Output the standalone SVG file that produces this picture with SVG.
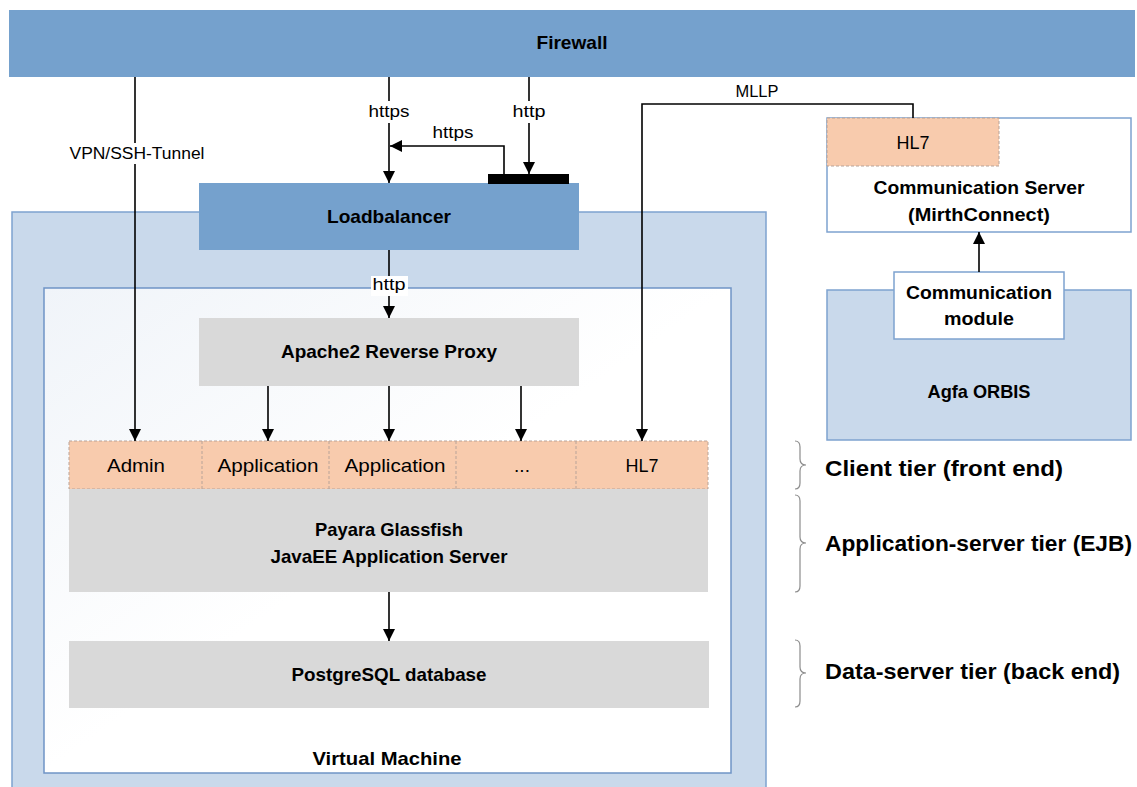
<svg xmlns="http://www.w3.org/2000/svg" width="1137" height="787" viewBox="0 0 1137 787">
<style>
  .t{font-family:"Liberation Sans",Arial,sans-serif;fill:#000;text-anchor:middle}
  .b{font-weight:bold;font-size:18.5px}
  .n{font-size:19px}
  .s{font-size:16px}
  .r{font-family:"Liberation Sans",Arial,sans-serif;font-weight:bold;font-size:22px;fill:#000}
  .line{stroke:#000;stroke-width:1.6;fill:none}
  .blue{fill:#75a1cd}
  .gray{fill:#d9d9d9}
  .peach{fill:#f8cbad;stroke:#b8a398;stroke-width:1;stroke-dasharray:3 2}
  .brace{stroke:#8c8c8c;stroke-width:1.2;fill:none}
</style>
<defs>
  <marker id="ah" markerUnits="userSpaceOnUse" markerWidth="12" markerHeight="14" refX="12" refY="6" orient="auto">
    <path d="M0,0 L12,6 L0,12 Z" fill="#000"/>
  </marker>
  <linearGradient id="vmg" x1="0" y1="0" x2="1" y2="1">
    <stop offset="0" stop-color="#f0f4f9"/>
    <stop offset="0.5" stop-color="#ffffff"/>
    <stop offset="1" stop-color="#ffffff"/>
  </linearGradient>
</defs>

<g id="firewall">
  <rect x="9" y="10" width="1126" height="67" class="blue"/>
  <text x="572" y="49" class="t b" textLength="71" lengthAdjust="spacingAndGlyphs">Firewall</text>
</g>

<g id="vm-host">
  <rect x="12" y="212" width="754" height="580" fill="#c9d9eb" stroke="#7ea2cf" stroke-width="1.5"/>
</g>

<g id="virtual-machine">
  <rect x="44" y="288" width="687" height="485" fill="url(#vmg)" stroke="#6f94c6" stroke-width="1.5"/>
  <text x="387" y="765" class="t b" textLength="149" lengthAdjust="spacingAndGlyphs">Virtual Machine</text>
</g>

<g id="loadbalancer">
  <rect x="199" y="183" width="380" height="67" class="blue"/>
  <text x="389" y="223" class="t b" textLength="124" lengthAdjust="spacingAndGlyphs">Loadbalancer</text>
  <rect x="488" y="174" width="81" height="10" fill="#000"/>
</g>

<g id="apache">
  <rect x="199" y="318" width="380" height="68" class="gray"/>
  <text x="389" y="358" class="t b" textLength="216" lengthAdjust="spacingAndGlyphs">Apache2 Reverse Proxy</text>
</g>

<g id="client-tier">
  <rect x="69" y="441" width="639" height="48" class="peach"/>
  <line x1="202" y1="441" x2="202" y2="489" stroke="#b8a398" stroke-dasharray="3 2"/>
  <line x1="329" y1="441" x2="329" y2="489" stroke="#b8a398" stroke-dasharray="3 2"/>
  <line x1="456" y1="441" x2="456" y2="489" stroke="#b8a398" stroke-dasharray="3 2"/>
  <line x1="576" y1="441" x2="576" y2="489" stroke="#b8a398" stroke-dasharray="3 2"/>
  <text x="136" y="472" class="t n" textLength="58" lengthAdjust="spacingAndGlyphs">Admin</text>
  <text x="268" y="472" class="t n" textLength="101" lengthAdjust="spacingAndGlyphs">Application</text>
  <text x="395" y="472" class="t n" textLength="101" lengthAdjust="spacingAndGlyphs">Application</text>
  <text x="522" y="472" class="t n">...</text>
  <text x="642" y="472" class="t n" textLength="33" lengthAdjust="spacingAndGlyphs">HL7</text>
</g>

<g id="payara">
  <rect x="69" y="489" width="639" height="103" class="gray"/>
  <text x="389" y="536" class="t b" textLength="148" lengthAdjust="spacingAndGlyphs">Payara Glassfish</text>
  <text x="389" y="563" class="t b" textLength="237" lengthAdjust="spacingAndGlyphs">JavaEE Application Server</text>
</g>

<g id="postgres">
  <rect x="69" y="641" width="640" height="67" class="gray"/>
  <text x="389" y="681" class="t b" textLength="195" lengthAdjust="spacingAndGlyphs">PostgreSQL database</text>
</g>

<g id="comm-server">
  <rect x="827" y="118" width="304" height="114" fill="#fff" stroke="#7ea2cf" stroke-width="1.5"/>
  <rect x="827" y="118" width="172" height="48" class="peach"/>
  <text x="913" y="149" class="t n" textLength="33" lengthAdjust="spacingAndGlyphs">HL7</text>
  <text x="979" y="194" class="t b" textLength="211" lengthAdjust="spacingAndGlyphs">Communication Server</text>
  <text x="979" y="221" class="t b" textLength="142" lengthAdjust="spacingAndGlyphs">(MirthConnect)</text>
</g>

<g id="agfa-orbis">
  <rect x="827" y="290" width="304" height="150" fill="#c9d9eb" stroke="#7ea2cf" stroke-width="1.5"/>
  <text x="979" y="398" class="t b" textLength="103" lengthAdjust="spacingAndGlyphs">Agfa ORBIS</text>
</g>

<g id="comm-module">
  <rect x="894" y="272" width="170" height="67" fill="#fff" stroke="#7ea2cf" stroke-width="1.5"/>
  <text x="979" y="299" class="t b" textLength="146" lengthAdjust="spacingAndGlyphs">Communication</text>
  <text x="979" y="325" class="t b" textLength="70" lengthAdjust="spacingAndGlyphs">module</text>
</g>

<g id="connectors">
  <!-- VPN -->
  <line x1="135" y1="77" x2="135" y2="441" class="line" marker-end="url(#ah)"/>
  <rect x="66" y="143" width="142" height="21" fill="#fff"/>
  <text x="137" y="159" class="t s" textLength="135" lengthAdjust="spacingAndGlyphs">VPN/SSH-Tunnel</text>
  <!-- https down -->
  <line x1="389" y1="77" x2="389" y2="183" class="line" marker-end="url(#ah)"/>
  <rect x="367" y="101" width="45" height="22" fill="#fff"/>
  <text x="389" y="117" class="t s" textLength="41" lengthAdjust="spacingAndGlyphs">https</text>
  <!-- http down -->
  <line x1="529" y1="77" x2="529" y2="174" class="line" marker-end="url(#ah)"/>
  <rect x="511" y="101" width="37" height="22" fill="#fff"/>
  <text x="529" y="117" class="t s" textLength="33" lengthAdjust="spacingAndGlyphs">http</text>
  <!-- https redirect -->
  <polyline points="504,174 504,146 390,146" class="line" marker-end="url(#ah)"/>
  <text x="453" y="138" class="t s" textLength="41" lengthAdjust="spacingAndGlyphs">https</text>
  <!-- LB to Apache -->
  <line x1="389" y1="250" x2="389" y2="318" class="line" marker-end="url(#ah)"/>
  <rect x="371" y="276" width="37" height="20" fill="#fff"/>
  <text x="389" y="290" class="t s" textLength="33" lengthAdjust="spacingAndGlyphs">http</text>
  <!-- Apache to apps -->
  <line x1="268" y1="386" x2="268" y2="441" class="line" marker-end="url(#ah)"/>
  <line x1="389" y1="386" x2="389" y2="441" class="line" marker-end="url(#ah)"/>
  <line x1="521" y1="386" x2="521" y2="441" class="line" marker-end="url(#ah)"/>
  <!-- MLLP -->
  <polyline points="913,118 913,104 642,104 642,441" class="line" marker-end="url(#ah)"/>
  <text x="757" y="97" class="t s" textLength="43" lengthAdjust="spacingAndGlyphs">MLLP</text>
  <!-- Payara to Postgres -->
  <line x1="389" y1="592" x2="389" y2="641" class="line" marker-end="url(#ah)"/>
  <!-- module to comm server -->
  <line x1="979" y1="272" x2="979" y2="232" class="line" marker-end="url(#ah)"/>
</g>

<g id="tiers">
  <path class="brace" d="M795,441 Q800,441 800,447 L800,459 Q800,465 806,465 Q800,465 800,471 L800,483 Q800,489 795,489"/>
  <text x="825" y="476" class="r" textLength="238" lengthAdjust="spacingAndGlyphs">Client tier (front end)</text>
  <path class="brace" d="M795,495 Q800,495 800,501 L800,537 Q800,543 806,543 Q800,543 800,549 L800,586 Q800,592 795,592"/>
  <text x="825" y="551" class="r" textLength="307" lengthAdjust="spacingAndGlyphs">Application-server tier (EJB)</text>
  <path class="brace" d="M795,640 Q800,640 800,646 L800,667 Q800,673 806,673 Q800,673 800,679 L800,701 Q800,707 795,707"/>
  <text x="825" y="679" class="r" textLength="295" lengthAdjust="spacingAndGlyphs">Data-server tier (back end)</text>
</g>
</svg>
